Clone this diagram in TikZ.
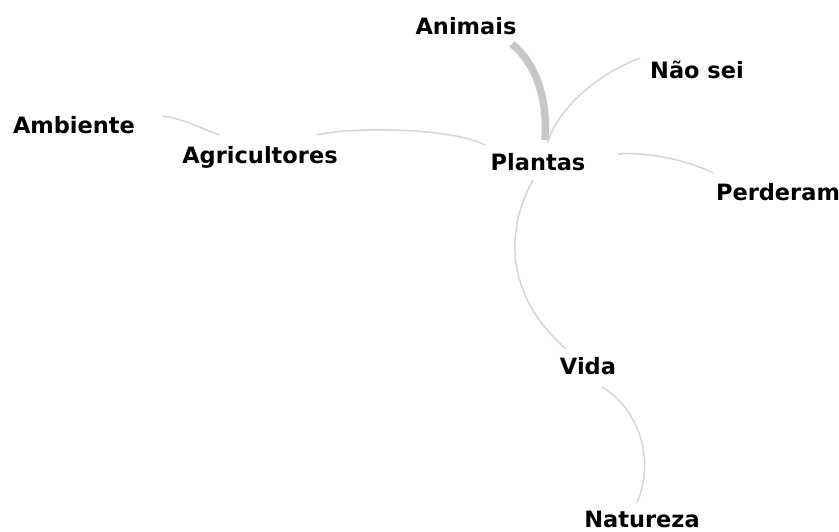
\documentclass[tikz,border=0pt]{standalone}
\usepackage{fontspec}
\setmainfont{DejaVu Sans}
\usepackage{tikz}
\tikzset{
  wd/.style={font=\fontsize{22.5}{25}\selectfont\bfseries,text=black,inner sep=0pt},
  lnk/.style={draw=black!17,line width=1.5pt,line cap=round},
  lnkb/.style={draw=black!22,line width=7.5pt},
}

\begin{document}
\begin{tikzpicture}[x=1pt,y=-1pt]
  \useasboundingbox (0,0) rectangle (839,531);
  \node[wd] (Ani) at (466,26) {Animais};
  \node[wd] (Nao) at (697,70) {Não sei};
  \node[wd] (Amb) at (74,125) {Ambiente};
  \node[wd] (Agr) at (260,157) {Agricultores};
  \node[wd] (Pla) at (538,162) {Plantas};
  \node[wd] (Per) at (778,192) {Perderam};
  \node[wd] (Vid) at (588,366) {Vida};
  \node[wd] (Nat) at (642,519) {Natureza};
  % the heavy link is the most frequent pairing
  \draw[lnkb] ([shift={(46,18)}]Ani.center) .. controls +(22,18) and +(3,-45) .. ([shift={(7,-22)}]Pla.center);
  \draw[lnk] ([shift={(-57,-12)}]Nao.center) .. controls +(-40,15) and +(10,-35) .. ([shift={(10,-20)}]Pla.center);
  \draw[lnk] ([shift={(89,-9)}]Amb.center) .. controls +(20,3) and +(-20,-8) .. ([shift={(-41,-22)}]Agr.center);
  \draw[lnk] ([shift={(57,-22)}]Agr.center) .. controls +(30,-8) and +(-35,-18) .. ([shift={(-53,-17)}]Pla.center);
  \draw[lnk] ([shift={(80,-8)}]Pla.center) .. controls +(25,-2) and +(-30,-15) .. ([shift={(-65,-19)}]Per.center);
  \draw[lnk] ([shift={(-5,18)}]Pla.center) .. controls +(-28,50) and +(-60,-53) .. ([shift={(-23,-18)}]Vid.center);
  \draw[lnk] ([shift={(14,21)}]Vid.center) .. controls +(38,23) and +(18,-43) .. ([shift={(-5,-16)}]Nat.center);
\end{tikzpicture}
\end{document}
